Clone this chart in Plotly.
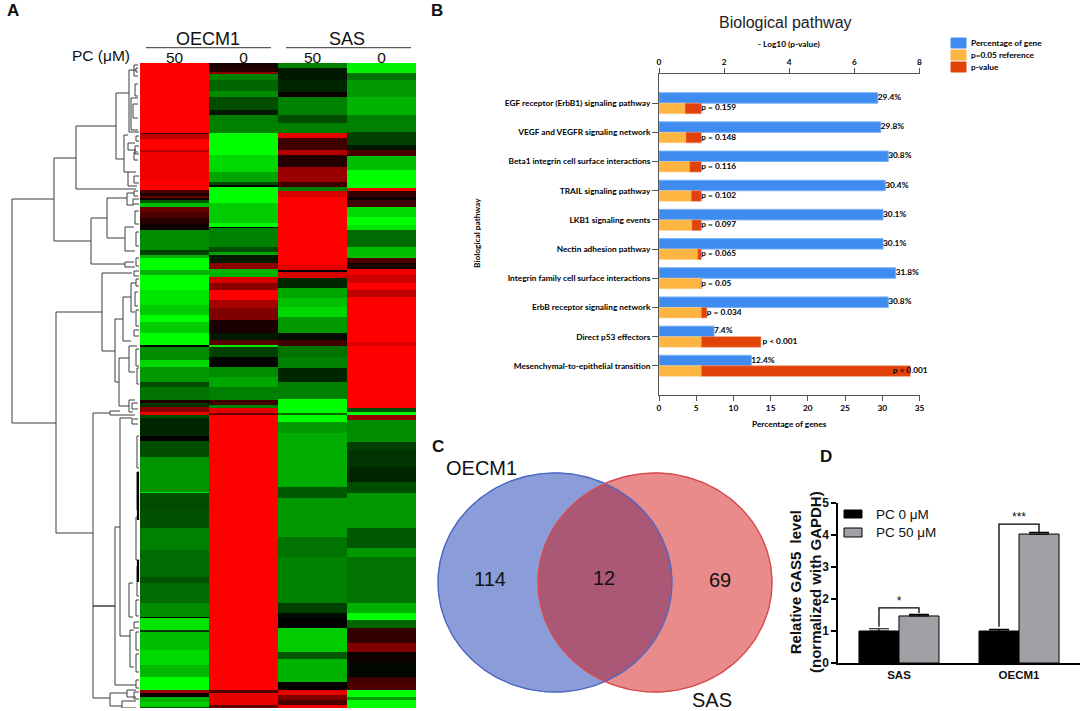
import numpy as np
import plotly.graph_objects as go

W, H = 1084, 711
SANS = "Liberation Sans"
CAL = "Lato"

# ---------- Panel A data: (last row of band, log-ratio clipped to [-1, 1]) ----------
heat_columns = ["50", "0", "50", "0"]
oecm1_50 = [(133,1),(134,.3),(139,.75),(150,1),(152,.7),(181,.95),(190,1),(193,.3),(196,.1),(198,.4),(200,0),(203,-.35),(207,-.75),
 (212,.4),(218,.3),(224,.15),(230,.05),(250,-.55),(255,-.25),(258,-.7),(270,-1),(275,-.7),(290,-1),(305,-.9),(315,-.8),(322,-1),(333,-.8),(345,-1),(347,0),
 (360,-.55),(367,-.85),(382,-.6),(387,-.3),(400,-.45),(403,.1),(407,-.2),(412,.55),(415,.9),(418,-.3),(436,-.15),(441,0),(457,-.3),(492,-.58),(493,-.9),
 (510,-.3),(528,-.32),(550,-.5),(577,-.42),(583,-.32),(603,-.42),(617,-.55),(618,0),(630,-.9),(632,-.2),(650,-.75),(665,-.85),(677,-.72),(690,-1),(693,.6),(697,.05),(702,-.7),(707,-.8),(708,-.3)]
oecm1_0 = [(68,.08),(72,.15),(74,.55),(80,-.5),(91,-.4),(97,-.55),(110,-.3),(115,-.1),(133,-.5),(155,-1),(172,-.85),(182,-.65),(185,-.3),(187,0),
 (203,-1),(223,-.8),(227,-1),(228,0),(247,-.5),(252,-.3),(255,-.65),(263,-.1),(269,.55),(277,-.7),(283,.85),(290,.55),(300,1),(308,.65),(320,.5),(333,.1),(340,-.1),(345,.35),(347,-.9),
 (357,-.25),(367,-.02),(377,-.55),(387,-.65),(400,-.5),(405,.25),(408,-.5),(413,.9),(415,.4),(690,1),(693,.3),(705,.9),(708,.4)]
sas_50 = [(68,-.5),(80,-.1),(92,-.15),(97,.05),(115,-.5),(123,-.3),(133,-.5),(138,.9),(150,.25),(155,.7),(167,.15),(182,.6),(187,.25),(191,-.5),(197,.85),
 (265,1),(270,.9),(272,0),(278,.85),(288,-.15),(298,-.65),(307,-.75),(317,-.85),(333,-.6),(340,-.05),(346,.25),(357,-.45),(368,-.5),(382,-.15),(399,-.5),(413,-1),(415,-.4),(422,-1),(433,-.6),
 (487,-.68),(498,-.35),(537,-.6),(557,-.45),(603,-.5),(613,-.25),(618,-.05),(628,0),(652,-.8),(659,-.35),(682,-.7),(690,.02),(695,.9),(700,.5),(705,.3),(708,.95)]
sas_0 = [(73,-.95),(80,-.45),(97,-.6),(115,-.7),(132,-.5),(145,-.25),(150,-.1),(156,.3),(170,-.75),(188,-1),(191,.95),(197,.2),(200,.05),(207,.25),(217,-.85),(225,-1),(230,-.9),(247,-.42),(258,-.75),
 (263,.3),(269,.1),(275,.95),(283,.8),(290,1),(297,.75),(342,1),(346,.85),(408,1),(412,-.3),(415,-1),(420,.6),(442,-.55),(450,-.25),(467,-.2),(482,-.15),(493,-.3),(528,-.6),(548,-.35),(557,-.6),
 (603,-.45),(613,-.7),(620,-1),(628,-.4),(643,.2),(652,.5),(663,.05),(677,-.03),(683,.25),(690,.3),(697,-1),(700,-.6),(708,-1)]
first_row, last_row = 63, 708

# Dendrogram links: (upper row, lower row, merge height, upper child height, lower child height)
dendro_links = [
 (199,423,12,54,56),(158,241,54,76,91),(126,189,76,116,136),(93,159,116,129,124),(70,132,129,136,139),(135,172,124,128,128),(172,186,128,136,137),
 (143,150,128,135,136),(218,264,91,107,125),(198,238,107,127,125),(227,251,125,134,135),(193,205,127,134,134),(262,267,125,134,135),
 (312,533,56,102,93),(273,351,102,132,115),(319,382,115,123,119),(297,341,123,131,131),(283,312,131,136,135),(358,406,119,129,129),(346,372,129,137,135),(400,412,129,135,133),
 (413,606,93,110,115),(606,698,93,115,110),(411,415,110,120,135),(527,685,115,120,136),(418,636,120,132,130),(583,617,129,133,133),(630,667,130,134,134),
 (693,706,110,127,122),(690,697,127,136,136),(701,708,122,136,136)]
dendro_twigs = [
 (65,76,134,138,138),(68,72,136,138,138),(84,96,135,138,138),(98,130,131,138,138),(104,118,133,138,138),(136,141,136,139,139),(146,154,135,139,139),(152,160,134,138,138),
 (176,183,134,139,139),(191,196,134,138,138),(199,204,133,139,139),(211,224,135,139,139),(232,246,136,139,139),(258,266,136,139,139),(271,276,134,139,139),(279,286,136,139,139),
 (292,306,135,138,138),(310,326,136,139,139),(330,336,134,139,139),(349,366,136,139,139),(368,384,137,139,139),(403,409,132,138,138),(419,424,132,138,138),(436,468,137,139,139),(472,510,137,139,139),
 (517,560,136,139,139),(566,596,137,139,139),(600,616,136,139,139),(622,628,134,139,139),(632,650,136,139,139),(654,672,136,139,139),(680,688,136,139,139),(692,699,134,139,139)]
dendro_thick = [(472,488),(488,520),(560,582)]

# ---------- Panel B data ----------
pathways = ["EGF receptor (ErbB1) signaling pathway","VEGF and VEGFR signaling network","Beta1 integrin cell surface interactions",
 "TRAIL signaling pathway","LKB1 signaling events","Nectin adhesion pathway","Integrin family cell surface interactions",
 "ErbB receptor signaling network","Direct p53 effectors","Mesenchymal-to-epithelial transition"]
pct_genes = [29.4,29.8,30.8,30.4,30.1,30.1,31.8,30.8,7.4,12.4]
pct_labels = ["29.4%","29.8%","30.8%","30.4%","30.1%","30.1%","31.8%","30.8%","7.4%","12.4%"]
neg_log_p = [0.80,0.83,0.94,0.99,1.01,1.19,1.30,1.47,3.13,7.72]
p_labels = ["p = 0.159","p = 0.148","p = 0.116","p = 0.102","p = 0.097","p = 0.065","p = 0.05","p = 0.034","p < 0.001","p < 0.001"]
p_ref = 1.30
p_label_pos = [1.30,1.30,1.30,1.30,1.30,1.30,1.30,1.47,3.18,7.18]
legend_b = ["Percentage of gene","p=0.05 reference","p-value"]
BLUE, ORANGE, RED = "#3F8CF0", "#FDB440", "#E0420A"

# ---------- Panel C data ----------
venn_sets = ["OECM1","SAS"]
venn_counts = [114,12,69]
venn_blue = (555,582.5,117,109.5)
venn_red = (655,582.5,117,109.5)

# ---------- Panel D data ----------
gas5_groups = ["SAS","OECM1"]
gas5_ctrl = [1.0,1.0]
gas5_ctrl_err = [0.07,0.05]
gas5_pc = [1.47,4.03]
gas5_pc_err = [0.05,0.05]
sig_marks = ["*","***"]
sig_top = [1.72,4.34]
sig_left = [1.13,1.13]
sig_right = [1.56,4.09]

def dx(a,b): return [a/W,b/W]
def dy(t,b): return [1-b/H,1-t/H]

def expand(bands):
    out=[];start=first_row
    for end,val in bands:
        out += [val]*(end-start); start=end
    return out

fig = go.Figure()

# ---- A heatmap
z = np.array([expand(c) for c in (oecm1_50,oecm1_0,sas_50,sas_0)]).T
rows = np.arange(first_row,last_row)+.5
fig.add_trace(go.Heatmap(z=z,x=[0,1,2,3],y=rows,zmin=-1,zmax=1,showscale=False,xaxis="x",yaxis="y",
    colorscale=[[0,"#00ff00"],[.5,"#000000"],[1,"#ff0000"]],xgap=0,ygap=0))

# ---- A dendrogram
dxs=[];dys=[]
for y1,y2,h,c1,c2 in dendro_links+dendro_twigs:
    dxs += [c1,h,h,c2,None]; dys += [y1,y1,y2,y2,None]
fig.add_trace(go.Scatter(x=dxs,y=dys,mode="lines",line=dict(color="#3c3c3c",width=1),xaxis="x2",yaxis="y2",hoverinfo="skip"))
tx=[];ty=[]
for y1,y2 in dendro_thick:
    tx += [138,138,None]; ty += [y1,y2,None]
fig.add_trace(go.Scatter(x=tx,y=ty,mode="lines",line=dict(color="#000",width=2.2),xaxis="x2",yaxis="y2",hoverinfo="skip"))

# ---- B bars
ypos=list(range(len(pathways)))
orange=[min(v,p_ref) for v in neg_log_p]
red=[abs(v-p_ref) for v in neg_log_p]
fig.add_trace(go.Bar(x=pct_genes,y=ypos,orientation="h",offset=-.36,width=.36,marker=dict(color=BLUE,line=dict(color="#79B0F6",width=1)),xaxis="x3",yaxis="y3",name=legend_b[0]))
fig.add_trace(go.Bar(x=orange,y=ypos,orientation="h",offset=0,width=.36,marker=dict(color=ORANGE,line=dict(color="#FED48C",width=.6)),xaxis="x4",yaxis="y3",name=legend_b[1]))
fig.add_trace(go.Bar(x=red,y=ypos,base=orange,orientation="h",offset=0,width=.36,marker=dict(color=RED,line=dict(color="#F08A60",width=.6)),xaxis="x4",yaxis="y3",name=legend_b[2]))
labfont=dict(family=CAL,size=8.3,color="#000",weight="bold")
fig.add_trace(go.Scatter(x=pct_genes,y=[i-.18 for i in ypos],text=pct_labels,mode="text",textposition="middle right",textfont=labfont,xaxis="x3",yaxis="y3",cliponaxis=False))
fig.add_trace(go.Scatter(x=p_label_pos,y=[i+.18 for i in ypos],text=p_labels,mode="text",textposition="middle right",textfont=labfont,xaxis="x4",yaxis="y3",cliponaxis=False))

# ---- C venn
def ellipse(e,n=181):
    t=np.linspace(0,2*np.pi,n); return e[0]+e[2]*np.cos(t), e[1]+e[3]*np.sin(t)
bx,by=ellipse(venn_blue); rx,ry=ellipse(venn_red)
fig.add_trace(go.Scatter(x=bx,y=by,mode="lines",fill="toself",fillcolor="#8B9DD8",line=dict(color="#8B9DD8",width=1),xaxis="x5",yaxis="y5",hoverinfo="skip"))
fig.add_trace(go.Scatter(x=rx,y=ry,mode="lines",fill="toself",fillcolor="#E98B8B",line=dict(color="#E98B8B",width=1),xaxis="x5",yaxis="y5",hoverinfo="skip"))
mid=(venn_blue[0]+venn_red[0])/2
half=np.arccos((mid-venn_blue[0])/venn_blue[2])
tb=np.linspace(-half,half,90); tr=np.linspace(np.pi-half,np.pi+half,90)
lx=np.r_[venn_blue[0]+venn_blue[2]*np.cos(tb),venn_red[0]+venn_red[2]*np.cos(tr)]
ly=np.r_[venn_blue[1]+venn_blue[3]*np.sin(tb),venn_red[1]+venn_red[3]*np.sin(tr)]
fig.add_trace(go.Scatter(x=lx,y=ly,mode="lines",fill="toself",fillcolor="#AB5876",line=dict(color="#AB5876",width=0),xaxis="x5",yaxis="y5",hoverinfo="skip"))
fig.add_trace(go.Scatter(x=bx,y=by,mode="lines",line=dict(color="#4C68C4",width=1.4),xaxis="x5",yaxis="y5",hoverinfo="skip"))
fig.add_trace(go.Scatter(x=rx,y=ry,mode="lines",line=dict(color="#D84A50",width=1.4),xaxis="x5",yaxis="y5",hoverinfo="skip"))
fig.add_trace(go.Scatter(x=[490,604,720],y=[581,580,582],text=[str(v) for v in venn_counts],mode="text",textfont=dict(family=SANS,size=20,color="#111"),xaxis="x5",yaxis="y5",hoverinfo="skip"))

# ---- D bars
gx=[0,1]
fig.add_trace(go.Bar(x=gx,y=gas5_ctrl,width=1/3,offset=-1/3,marker=dict(color="#000",line=dict(color="#000",width=1)),
    error_y=dict(type="data",array=gas5_ctrl_err,symmetric=False,arrayminus=[0,0],color="#000",thickness=1.2,width=10),xaxis="x6",yaxis="y6",name="PC 0 μM"))
fig.add_trace(go.Bar(x=gx,y=gas5_pc,width=1/3,offset=0,marker=dict(color="#A1A0A5",line=dict(color="#000",width=1)),
    error_y=dict(type="data",array=gas5_pc_err,symmetric=False,arrayminus=[0,0],color="#000",thickness=1.2,width=10),xaxis="x6",yaxis="y6",name="PC 50 μM"))
sx=[];sy=[]
for g,top,l,r in zip(gx,sig_top,sig_left,sig_right):
    sx += [g-1/6,g-1/6,g+1/6,g+1/6,None]; sy += [l,top,top,r,None]
fig.add_trace(go.Scatter(x=sx,y=sy,mode="lines",line=dict(color="#000",width=1.3),xaxis="x6",yaxis="y6",hoverinfo="skip"))
fig.add_trace(go.Scatter(x=gx,y=sig_top,text=sig_marks,mode="text",textposition="top center",textfont=dict(family=SANS,size=12,color="#111"),xaxis="x6",yaxis="y6",cliponaxis=False,hoverinfo="skip"))

# ---- annotations and helper shapes
ann=[];shapes=[]
def T(x,y,text,size,bold=False,family=SANS,color="#111",anchor="center",angle=0):
    ann.append(dict(text=text,x=x/W,y=1-y/H,xref="paper",yref="paper",showarrow=False,xanchor=anchor,yanchor="middle",textangle=angle,
        font=dict(family=family,size=size,color=color,weight="bold" if bold else "normal")))
def hline(x0,x1,y,color="#333",width=1):
    shapes.append(dict(type="line",xref="paper",yref="paper",x0=x0/W,x1=x1/W,y0=1-y/H,y1=1-y/H,line=dict(color=color,width=width)))
def box(x0,x1,y0,y1,fill,line=None):
    shapes.append(dict(type="rect",xref="paper",yref="paper",x0=x0/W,x1=x1/W,y0=1-y0/H,y1=1-y1/H,fillcolor=fill,line=dict(color=line or fill,width=1)))

T(13,11,"A",17,True);T(437,10,"B",17,True);T(438,446,"C",17,True);T(826,456,"D",17,True)
T(208,39,"OECM1",18);T(347,39,"SAS",18);T(132,55,"PC (μM)",15.5,anchor="right")
hline(146,271,47.7);hline(286,411,47.7)
T(785,22,"Biological pathway",16,color="#222")
T(789,44,"- Log10 (p-value)",8.3,True,CAL,color="#000")
T(789,424,"Percentage of genes",8.3,True,CAL,color="#000")
T(477,233,"Biological pathway",8.3,True,CAL,color="#000",angle=-90)
for i,(lab,col) in enumerate(zip(legend_b,(BLUE,ORANGE,RED))):
    yy=43+12*i
    box(951,966,yy-5,yy+5,col)
    T(969,yy,lab,8.3,True,CAL,color="#000",anchor="left")
T(482,468,venn_sets[0],20);T(712,700,venn_sets[1],20)
T(805,582,"Relative GAS5  level<br>(normalized with GAPDH)",15,True,angle=-90)
box(844,862,510,518,"#000")
box(844,862,528,537,"#A1A0A5","#000")
T(874,514,"PC 0 μM",13.5,anchor="left");T(874,532,"PC 50 μM",13.5,anchor="left")

hidden=dict(visible=False,showgrid=False,zeroline=False)
ax_line="#555"
calfont=dict(family=CAL,size=8.3,color="#000",weight="bold")
fig.update_layout(
    width=W,height=H,margin=dict(l=0,r=0,t=0,b=0),autosize=False,showlegend=False,barmode="overlay",
    plot_bgcolor="white",paper_bgcolor="white",annotations=ann,shapes=shapes,
    xaxis=dict(domain=dx(140,416),range=[-.5,3.5],anchor="y",side="top",tickvals=[0,1,2,3],ticktext=heat_columns,ticks="",ticklen=0,ticklabelstandoff=-4,
        tickfont=dict(family=SANS,size=15.5,color="#111"),showgrid=False,zeroline=False,showline=False),
    yaxis=dict(domain=dy(63,708),range=[last_row,first_row],anchor="x",**hidden),
    xaxis2=dict(domain=dx(0,140),range=[0,140],anchor="y2",**hidden),
    yaxis2=dict(domain=dy(63,708),range=[last_row,first_row],anchor="x2",**hidden),
    xaxis3=dict(domain=dx(659,919.5),range=[0,35],anchor="y3",side="bottom",tickvals=list(range(0,36,5)),ticks="outside",ticklen=5,tickcolor=ax_line,
        showline=True,linecolor=ax_line,linewidth=1,showgrid=False,zeroline=False,tickfont=calfont),
    yaxis3=dict(domain=dy(74,395),range=[10,-1],anchor="x3",tickvals=ypos,ticktext=pathways,ticks="outside",ticklen=6,tickcolor=ax_line,
        showline=True,linecolor=ax_line,linewidth=1,showgrid=False,zeroline=False,tickfont=calfont),
    xaxis4=dict(domain=dx(659,919.5),range=[0,8],anchor="y3",overlaying="x3",side="top",tickvals=[0,2,4,6,8],ticks="outside",ticklen=5,tickcolor=ax_line,
        showline=True,linecolor=ax_line,linewidth=1,showgrid=False,zeroline=False,tickfont=calfont),
    xaxis5=dict(domain=dx(420,780),range=[420,780],anchor="y5",**hidden),
    yaxis5=dict(domain=dy(440,711),range=[711,440],anchor="x5",**hidden),
    xaxis6=dict(domain=dx(838,1080),range=[-.508,1.508],anchor="y6",tickvals=gx,ticktext=gas5_groups,ticks="",showline=True,linecolor="#000",linewidth=1.5,
        showgrid=False,zeroline=False,tickfont=dict(family=SANS,size=11.5,color="#111",weight="bold")),
    yaxis6=dict(domain=dy(503,663),range=[0,5],anchor="x6",tickvals=[0,1,2,3,4,5],ticks="outside",ticklen=5,tickwidth=1.5,tickcolor="#000",showline=True,linecolor="#000",linewidth=1.5,
        showgrid=False,zeroline=False,tickfont=dict(family=SANS,size=12,color="#111",weight="bold")),
)
fig.update_xaxes(automargin=False)
fig.update_yaxes(automargin=False)
fig.write_html("out.html",post_script="document.body.style.margin='0';",config={"displayModeBar":False})
